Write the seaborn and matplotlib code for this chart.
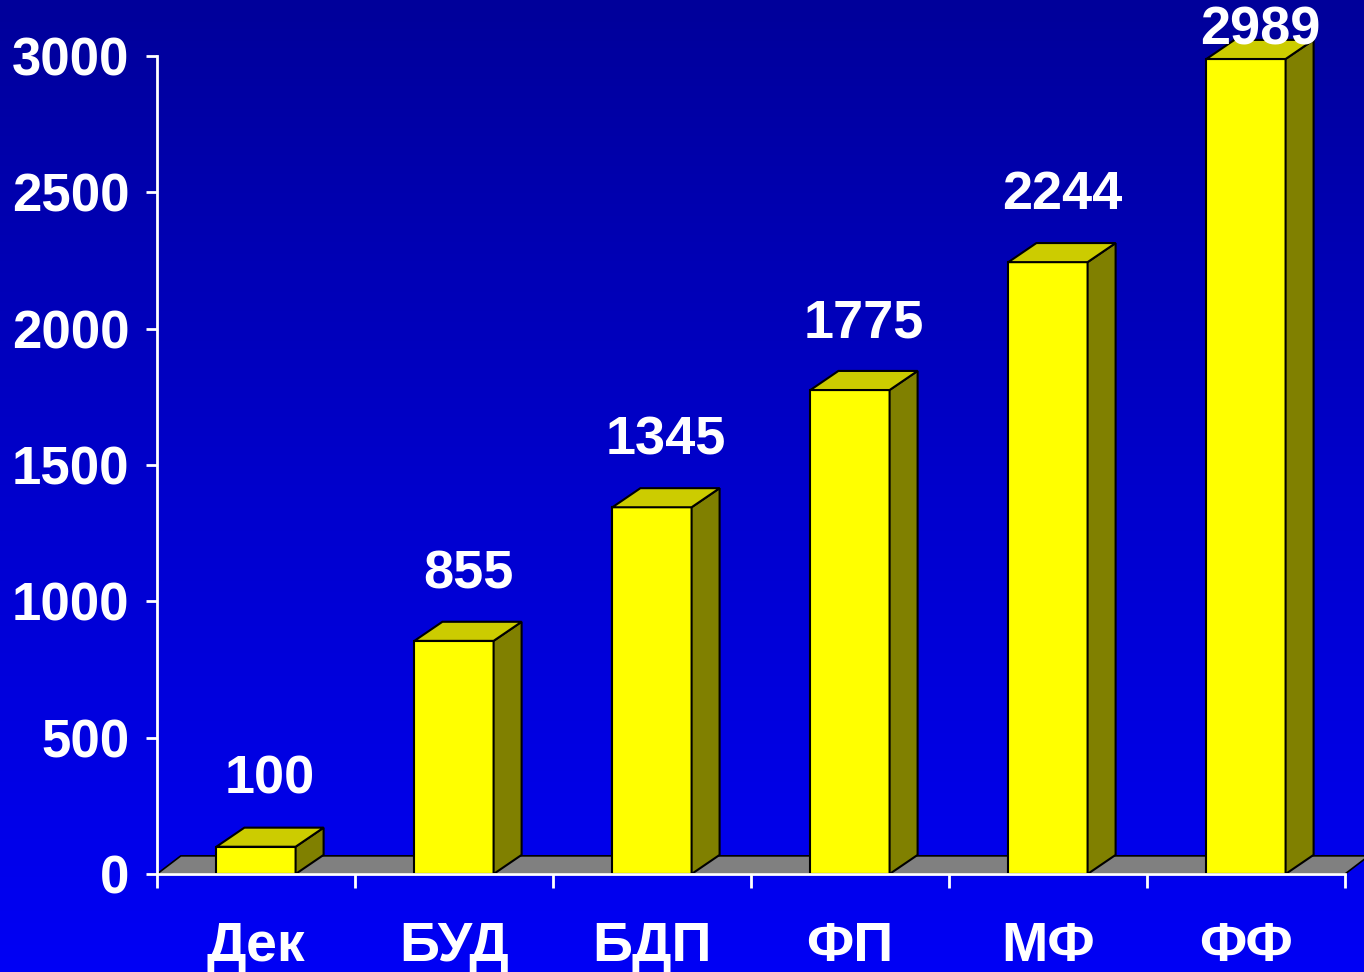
import numpy as np
import matplotlib
matplotlib.use("Agg")
import matplotlib.pyplot as plt
from matplotlib.colors import LinearSegmentedColormap
from matplotlib.patches import Polygon
import seaborn as sns
import pandas as pd

categories = ["Дек", "БУД", "БДП", "ФП", "МФ", "ФФ"]
values = [100, 855, 1345, 1775, 2244, 2989]
y_ticks = [0, 500, 1000, 1500, 2000, 2500, 3000]

sns.set_style("white")
plt.rcParams['font.family'] = ['Liberation Sans', 'DejaVu Sans']
plt.rcParams['font.weight'] = 'bold'

fig = plt.figure(figsize=(13.64, 9.72), dpi=100)

# gradient background
bg = fig.add_axes([0, 0, 1, 1], zorder=-10)
cmap = LinearSegmentedColormap.from_list("bg", ["#00009A", "#0000CC", "#0000F5"])
grad = np.linspace(0, 1, 256).reshape(-1, 1)
bg.imshow(grad, aspect='auto', cmap=cmap, extent=[0, 1, 0, 1], origin='upper')
bg.axis('off')

ax = fig.add_axes([157/1364, 1 - 874/972, (1345-157)/1364, (874-56)/972])
ax.patch.set_alpha(0)

df = pd.DataFrame({"cat": categories, "val": values})
bw = 0.4
sns.barplot(data=df, x="cat", y="val", color="#FFFF00", edgecolor="black",
            linewidth=1.5, width=bw, ax=ax, saturation=1, zorder=3)
for p in ax.patches:
    p.set_clip_on(False)

dx = 28 / 198
dy = 70

# floor
floor = Polygon([(-0.5, 0), (-0.5 + dx*0.85, dy*0.95), (5.5 + dx*0.85, dy*0.95), (5.5, 0)],
                closed=True, facecolor="#808080", edgecolor="black", linewidth=1.2,
                zorder=1, clip_on=False)
ax.add_patch(floor)

for i, v in enumerate(values):
    x0, x1 = i - bw/2, i + bw/2
    side = Polygon([(x1, 0), (x1 + dx, dy), (x1 + dx, v + dy), (x1, v)], closed=True,
                   facecolor="#808000", edgecolor="black", linewidth=1.5, zorder=3, clip_on=False)
    top = Polygon([(x0, v), (x0 + dx, v + dy), (x1 + dx, v + dy), (x1, v)], closed=True,
                  facecolor="#CCCC00", edgecolor="black", linewidth=1.5, zorder=3, clip_on=False)
    ax.add_patch(side)
    ax.add_patch(top)
    ax.text(i + dx/2, min(v + 245, 3095), str(v), ha='center', va='center', color='white',
            fontsize=39, fontweight='bold', zorder=5, clip_on=False)

ax.set_xlim(-0.5, 5.5)
ax.set_ylim(0, 3000)
ax.set_yticks(y_ticks)
ax.set_yticklabels([str(t) for t in y_ticks])
ax.set_xlabel("")
ax.set_ylabel("")

for s in ["top", "right"]:
    ax.spines[s].set_visible(False)
for s in ["left", "bottom"]:
    ax.spines[s].set_color("white")
    ax.spines[s].set_linewidth(2)
    ax.spines[s].set_zorder(4)

ax.tick_params(axis='y', which='major', left=True, length=8, width=2, color='white',
               labelcolor='white', labelsize=38, pad=12, direction='out')
ax.tick_params(axis='x', which='major', bottom=False, length=0, labelcolor='white',
               labelsize=40, pad=34)
ax.set_xticks(np.arange(-0.5, 6.0, 1.0), minor=True)
ax.tick_params(axis='x', which='minor', bottom=True, length=10, width=2, color='white',
               direction='out')
for lbl in ax.get_xticklabels() + ax.get_yticklabels():
    lbl.set_fontweight('bold')

fig.savefig("out.png", dpi=100)
